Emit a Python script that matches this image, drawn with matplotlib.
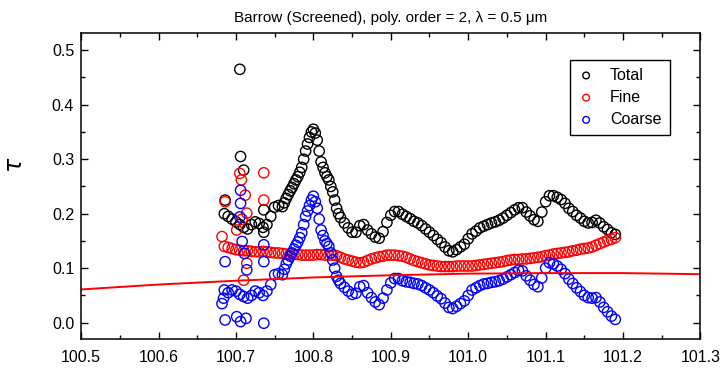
import numpy as np
import matplotlib
matplotlib.use("Agg")
import matplotlib.pyplot as plt

plt.rcParams['font.family'] = ['Liberation Sans', 'DejaVu Sans']

# Abscisa comun para las tres series (paso 0.005)
x = np.round(np.arange(100.685, 101.1901, 0.005), 3)

fine = [0.140, 0.138, 0.136, 0.134, 0.133, 0.132, 0.132, 0.131, 0.130, 0.130,
        0.131, 0.130, 0.129, 0.128, 0.128, 0.127, 0.126, 0.126, 0.125, 0.125,
        0.124, 0.124, 0.124, 0.124, 0.125, 0.125, 0.124, 0.124, 0.124, 0.123,
        0.120, 0.117, 0.115, 0.113, 0.111, 0.110, 0.111, 0.114, 0.117, 0.119,
        0.121, 0.122, 0.124, 0.124, 0.124, 0.123, 0.122, 0.120, 0.117, 0.114,
        0.112, 0.110, 0.108, 0.106, 0.105, 0.104, 0.103, 0.103, 0.103, 0.103,
        0.104, 0.104, 0.104, 0.104, 0.104, 0.105, 0.106, 0.107, 0.108, 0.109,
        0.110, 0.111, 0.112, 0.114, 0.115, 0.116, 0.116, 0.117, 0.117, 0.118,
        0.119, 0.120, 0.121, 0.123, 0.124, 0.126, 0.127, 0.128, 0.129, 0.130,
        0.132, 0.133, 0.135, 0.136, 0.137, 0.139, 0.142, 0.145, 0.148, 0.151,
        0.153, 0.156]

coarse = [0.060, 0.055, 0.060, 0.058, 0.052, 0.048, 0.045, 0.050, 0.058, 0.055,
          0.050, 0.058, 0.070, 0.088, 0.090, 0.088, 0.108, 0.122, 0.135, 0.148,
          0.165, 0.195, 0.215, 0.232, 0.210, 0.170, 0.150, 0.140, 0.115, 0.085,
          0.072, 0.065, 0.058, 0.052, 0.054, 0.066, 0.068, 0.055, 0.046, 0.038,
          0.033, 0.045, 0.060, 0.073, 0.081, 0.081, 0.077, 0.075, 0.074, 0.072,
          0.071, 0.068, 0.064, 0.060, 0.055, 0.049, 0.044, 0.036, 0.028, 0.026,
          0.030, 0.035, 0.040, 0.050, 0.060, 0.064, 0.068, 0.071, 0.072, 0.074,
          0.075, 0.077, 0.080, 0.084, 0.088, 0.092, 0.096, 0.095, 0.086, 0.078,
          0.070, 0.066, 0.082, 0.100, 0.110, 0.108, 0.104, 0.098, 0.090, 0.080,
          0.072, 0.064, 0.057, 0.050, 0.046, 0.045, 0.046, 0.038, 0.028, 0.020,
          0.012, 0.006]

total = [0.200, 0.195, 0.190, 0.185, 0.180, 0.175, 0.172, 0.180, 0.185, 0.182,
         0.175, 0.180, 0.195, 0.212, 0.215, 0.213, 0.228, 0.242, 0.255, 0.268,
         0.285, 0.315, 0.340, 0.355, 0.335, 0.295, 0.275, 0.262, 0.240, 0.210,
         0.193, 0.183, 0.174, 0.166, 0.166, 0.178, 0.180, 0.170, 0.163, 0.157,
         0.155, 0.167, 0.184, 0.197, 0.204, 0.204, 0.199, 0.195, 0.191, 0.186,
         0.183, 0.178, 0.172, 0.166, 0.160, 0.153, 0.147, 0.139, 0.132, 0.130,
         0.134, 0.139, 0.144, 0.154, 0.163, 0.168, 0.174, 0.177, 0.180, 0.183,
         0.185, 0.188, 0.192, 0.197, 0.202, 0.207, 0.211, 0.211, 0.203, 0.196,
         0.189, 0.186, 0.203, 0.222, 0.233, 0.233, 0.230, 0.226, 0.219, 0.210,
         0.204, 0.197, 0.192, 0.186, 0.183, 0.184, 0.188, 0.183, 0.176, 0.171,
         0.165, 0.162]

# Puntos adicionales en el pico (zona de mayor pendiente)
peak_x = [100.7625, 100.7675, 100.7725, 100.7775, 100.7825, 100.7875, 100.7925,
          100.7975, 100.8025, 100.8075, 100.8125, 100.8175, 100.8225, 100.8275,
          100.8325]
total_peak = [0.220, 0.235, 0.248, 0.262, 0.276, 0.300, 0.328,
              0.350, 0.348, 0.315, 0.285, 0.268, 0.250, 0.225, 0.200]
coarse_peak = [0.098, 0.115, 0.128, 0.142, 0.156, 0.180, 0.205,
               0.225, 0.222, 0.190, 0.160, 0.145, 0.128, 0.100, 0.078]

# Puntos dispersos al inicio de la serie
total_x_extra = [100.705, 100.706, 100.710, 100.686, 100.736, 100.736]
total_extra = [0.465, 0.305, 0.280, 0.225, 0.207, 0.166]
fine_x_extra = [100.705, 100.707, 100.736, 100.736, 100.686, 100.712,
                100.714, 100.701, 100.682, 100.710, 100.714, 100.708]
fine_extra = [0.274, 0.262, 0.275, 0.225, 0.222, 0.234,
              0.201, 0.170, 0.158, 0.078, 0.109, 0.190]
coarse_x_extra = [100.686, 100.701, 100.706, 100.713, 100.736, 100.706,
                  100.706, 100.705, 100.708, 100.711, 100.714, 100.736,
                  100.736, 100.686, 100.682, 100.684]
coarse_extra = [0.005, 0.011, 0.002, 0.008, -0.001, 0.243,
                0.219, 0.194, 0.149, 0.127, 0.097, 0.143,
                0.112, 0.112, 0.035, 0.045]

# Ajuste polinomico (linea roja)
fit_x = [100.5, 100.6, 100.7, 100.8, 100.9, 101.0, 101.1, 101.2, 101.3]
fit_y = [0.061, 0.070, 0.077, 0.083, 0.087, 0.090, 0.091, 0.091, 0.089]

fig = plt.figure(figsize=(7.24, 3.69), dpi=100)
ax = fig.add_axes([0.112, 0.0805, 0.8555, 0.830])

ms = 55
lw = 1.0
ax.scatter(np.concatenate([x, peak_x, total_x_extra]),
           np.concatenate([total, total_peak, total_extra]),
           s=ms, facecolors='none', edgecolors='black', linewidths=lw, label='Total')
ax.scatter(np.concatenate([x, fine_x_extra]), np.concatenate([fine, fine_extra]),
           s=ms, facecolors='none', edgecolors='red', linewidths=lw, label='Fine')
ax.scatter(np.concatenate([x, peak_x, coarse_x_extra]),
           np.concatenate([coarse, coarse_peak, coarse_extra]),
           s=ms, facecolors='none', edgecolors='blue', linewidths=lw, label='Coarse')
ax.plot(fit_x, fit_y, color='red', linewidth=1.4)

ax.set_xlim(100.5, 101.3)
ax.set_ylim(-0.0305, 0.5316)
ax.set_xticks(np.arange(100.5, 101.31, 0.1))
ax.set_xticks(np.arange(100.55, 101.3, 0.1), minor=True)
ax.set_yticks(np.arange(0, 0.51, 0.1))
ax.set_yticks(np.arange(0.05, 0.53, 0.1), minor=True)
ax.set_xticklabels(['%.1f' % v for v in np.arange(100.5, 101.31, 0.1)])
ax.set_yticklabels(['%.1f' % v for v in np.arange(0, 0.51, 0.1)])
ax.tick_params(which='both', direction='in', top=True, right=True, width=1.0,
               labelsize=11.5)
ax.tick_params(which='major', length=5)
ax.tick_params(which='minor', length=3)
ax.tick_params(axis='x', pad=8)
ax.tick_params(axis='y', pad=5)
for s in ax.spines.values():
    s.set_linewidth(1.1)

ax.set_ylabel(r'$\tau$', fontsize=17, family='DejaVu Sans')
ax.yaxis.set_label_coords(-0.087, 0.57)
ax.set_title('Barrow (Screened), poly. order = 2, \u03bb = 0.5 \u03bcm', fontsize=11, pad=8)

leg = ax.legend(loc='upper right', bbox_to_anchor=(0.963, 0.939), fancybox=False,
                edgecolor='black', fontsize=11.5, markerscale=0.65, handlelength=1.0,
                handletextpad=1.0, labelspacing=0.45, borderpad=0.5, framealpha=1)
leg.get_frame().set_linewidth(1.0)

fig.savefig('out.png', dpi=100)
